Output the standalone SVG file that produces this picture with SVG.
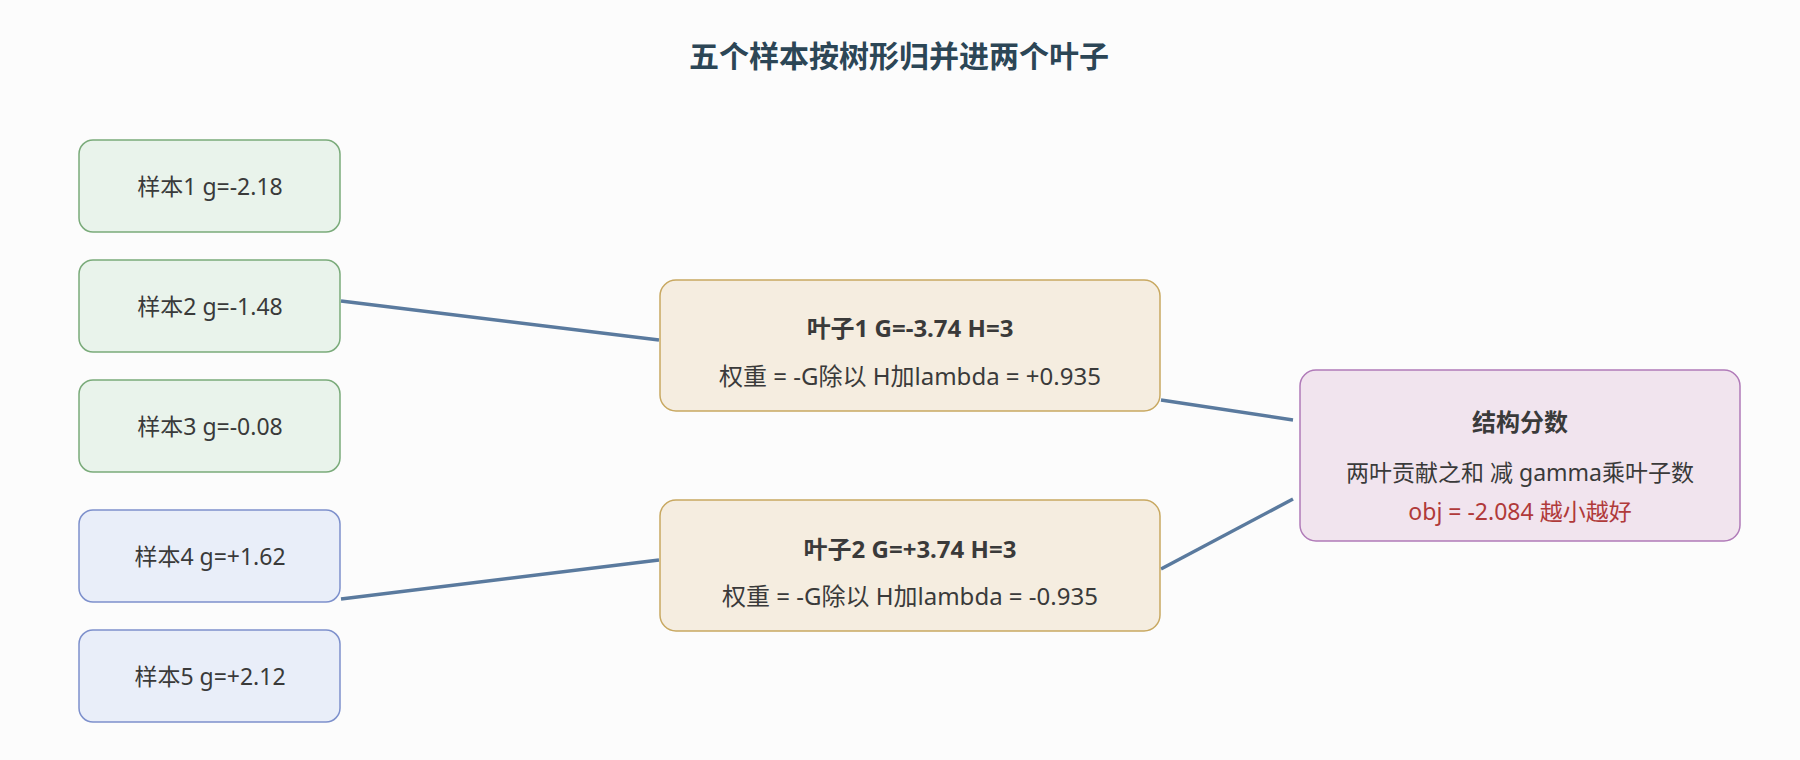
<svg xmlns="http://www.w3.org/2000/svg" width="1800" height="760" viewBox="0 0 1800 760">
<style>
text{font-family:"Noto Sans","Noto Sans CJK SC",sans-serif;fill:#3a3a3a;text-anchor:middle;dominant-baseline:central}
.s{font-size:23px}
.t{font-size:30px;font-weight:bold;fill:#2c4656}
.b{font-size:24px;font-weight:bold}
.m{font-size:24px}
.g{fill:#e9f3eb;stroke:#7aab7a;stroke-width:1.5}
.u{fill:#e9eef9;stroke:#7d90cc;stroke-width:1.5}
.l{fill:#f5ede0;stroke:#c8a860;stroke-width:1.5}
.p{fill:#f1e4ee;stroke:#b07ab8;stroke-width:1.5}
.c line{stroke:#5a7a9e;stroke-width:3.5}
</style>
<rect width="1800" height="760" fill="#fcfcfc"/>
<text class="t" x="899" y="55">五个样本按树形归并进两个叶子</text>
<g class="c" id="connectors">
<line x1="341" y1="301" x2="659" y2="340"/>
<line x1="1161" y1="400" x2="1293" y2="420"/>
<line x1="341" y1="599" x2="659" y2="560"/>
<line x1="1161" y1="569" x2="1293" y2="499"/>
</g>
<g id="s1"><rect class="g" x="79" y="140" width="261" height="92" rx="14"/><text class="s" x="210" y="186">样本1 g=-2.18</text></g>
<g id="s2"><rect class="g" x="79" y="260" width="261" height="92" rx="14"/><text class="s" x="210" y="306">样本2 g=-1.48</text></g>
<g id="s3"><rect class="g" x="79" y="380" width="261" height="92" rx="14"/><text class="s" x="210" y="426">样本3 g=-0.08</text></g>
<g id="s4"><rect class="u" x="79" y="510" width="261" height="92" rx="14"/><text class="s" x="210" y="556">样本4 g=+1.62</text></g>
<g id="s5"><rect class="u" x="79" y="630" width="261" height="92" rx="14"/><text class="s" x="210" y="676">样本5 g=+2.12</text></g>
<g id="leaf1"><rect class="l" x="660" y="280" width="500" height="131" rx="16"/><text class="b" x="910" y="327">叶子1 G=-3.74 H=3</text><text class="m" x="910" y="375">权重 = -G除以 H加lambda = +0.935</text></g>
<g id="leaf2"><rect class="l" x="660" y="500" width="500" height="131" rx="16"/><text class="b" x="910" y="548">叶子2 G=+3.74 H=3</text><text class="m" x="910" y="595">权重 = -G除以 H加lambda = -0.935</text></g>
<g id="score"><rect class="p" x="1300" y="370" width="440" height="171" rx="16"/><text class="b" x="1520" y="421">结构分数</text><text class="s" x="1520" y="472">两叶贡献之和 减 gamma乘叶子数</text><text class="s" x="1520" y="511" style="fill:#b03a3a">obj = -2.084 越小越好</text></g>
</svg>
